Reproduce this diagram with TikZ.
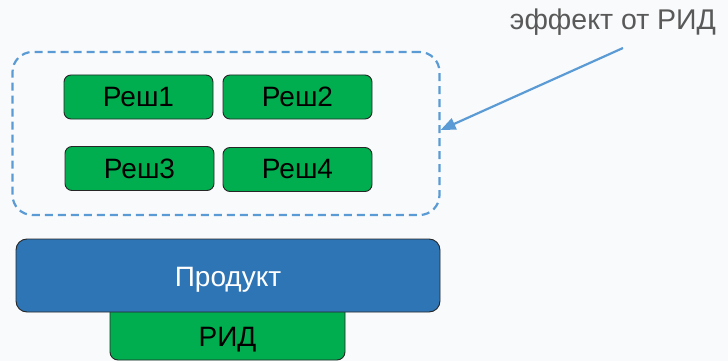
\documentclass[tikz,border=0pt]{standalone}
\usepackage{fontspec}
\setmainfont{Liberation Sans}
\usetikzlibrary{arrows.meta,calc}
\definecolor{bg}{HTML}{F9FAFC}
\definecolor{resh}{HTML}{00AE4F}
\definecolor{prod}{HTML}{2E75B6}
\definecolor{dash}{HTML}{5B9BD5}
\definecolor{txtgray}{HTML}{595959}
\tikzset{
  reshbox/.style={draw=black!85, line width=0.9pt, fill=resh, rounded corners=7pt,
    minimum width=149pt, minimum height=44pt, inner sep=0pt,
    font=\fontsize{28}{32}\selectfont},
  framebox/.style={draw=dash, line width=2.2pt, dash pattern=on 8pt off 5pt,
    rounded corners=20pt, minimum width=427pt, minimum height=163pt, inner sep=0pt},
  prodbox/.style={draw=black!85, line width=0.9pt, fill=prod, rounded corners=11pt,
    minimum width=424pt, minimum height=73pt, inner sep=0pt, text=white,
    text height=22pt, text depth=0pt,
    font=\fontsize{28}{32}\selectfont},
  ridbox/.style={draw=black!85, line width=0.9pt, fill=resh, rounded corners=8pt,
    minimum width=235pt, minimum height=60pt, inner sep=0pt,
    text height=32pt, text depth=0pt, font=\fontsize{28}{32}\selectfont},
  lbl/.style={text=txtgray, inner sep=0pt, font=\fontsize{28.5}{32}\selectfont},
  effarrow/.style={draw=dash, line width=2.2pt, -{Triangle[length=15pt,width=12pt]}}
}
\begin{document}
\begin{tikzpicture}[x=1pt,y=-1pt]
\fill[bg] (0,0) rectangle (728,361);
\useasboundingbox (0,0) rectangle (728,361);
\node[framebox] (frame) at (226,133.5) {};
\node[reshbox] (r1) at (138.5,97) {Реш1};
\node[reshbox] (r2) at (297.5,97) {Реш2};
\node[reshbox] (r3) at (139.5,168.5) {Реш3};
\node[reshbox] (r4) at (297.5,169.5) {Реш4};
\node[ridbox] (rid) at (227.5,330) {РИД};
\node[prodbox] (prod) at (228,275.5) {Продукт};
\node[lbl] (eff) at (613,22) {эффект от РИД};
\coordinate (effstart) at (623,48);
\draw[effarrow] (effstart) -- ($(frame.east)+(0,-3.5)$);
\end{tikzpicture}
\end{document}
